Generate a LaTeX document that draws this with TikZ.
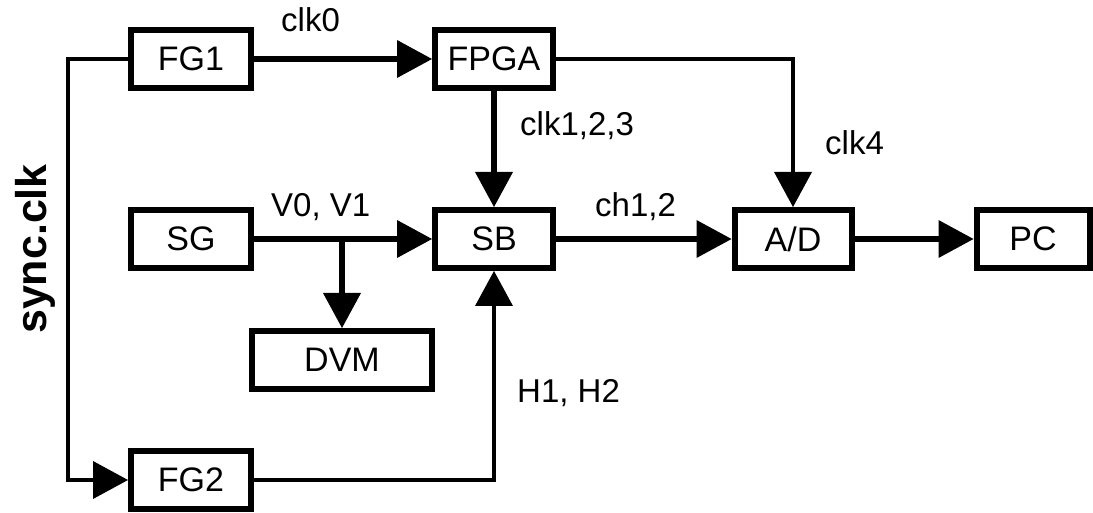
\documentclass[tikz,border=0pt]{standalone}
\usepackage{fontspec}
\setmainfont{Liberation Sans}
\usetikzlibrary{arrows.meta}
\begin{document}
\begin{tikzpicture}[x=1pt,y=-1pt,
  box/.style={draw, line width=6pt, minimum height=58pt, inner sep=0pt,
    font=\fontsize{34}{34}\selectfont},
  lbl/.style={font=\fontsize{33}{33}\selectfont, inner sep=0pt, anchor=base west},
  tri/.style={-{Triangle[length=35pt,width=38pt,line width=0pt]}},
  thk/.style={line width=6pt},
  thn/.style={line width=4pt}]
\useasboundingbox (0,0) rectangle (1093,513);
% boxes
\node[box, minimum width=120pt] (fg1)  at (191,59)  {FG1};
\node[box, minimum width=118pt] (fpga) at (494,59)  {FPGA};
\node[box, minimum width=120pt] (sg)   at (191,239) {SG};
\node[box, minimum width=118pt] (sb)   at (494,239) {SB};
\node[box, minimum width=117pt] (ad)   at (793,239) {A/D};
\node[box, minimum width=113pt] (pc)   at (1033,239) {PC};
\node[box, minimum width=180pt] (dvm)  at (342,360) {DVM};
\node[box, minimum width=120pt] (fg2)  at (191,480) {FG2};
% helper coordinate for the sync loop
\coordinate (loop) at (68,270);
% connectors
\draw[thn,tri] (fg1.west) -| (loop) |- (fg2.west);
\draw[thk,tri] (fg1) -- (fpga);
\draw[thk,tri] (fpga) -- (sb);
\draw[thn,tri] (fpga.east) -| (ad.north);
\draw[thk,tri] (sg) -- (sb);
\draw[thk,tri] (sg.east -| dvm.north) -- (dvm.north);
\draw[thk,tri] (sb) -- (ad);
\draw[thk,tri] (ad) -- (pc);
\draw[thn,tri] (fg2.east) -| (sb.south);
% labels
\node[lbl] (lclk0) at (281,32)  {clk0};
\node[lbl] (lclk1) at (520,136) {clk1,2,3};
\node[lbl] (lclk4) at (825,155) {clk4};
\node[lbl] (lv)    at (271,217) {V0, V1};
\node[lbl] (lch)   at (595,217) {ch1,2};
\node[lbl] (lh)    at (517,402) {H1, H2};
\node[font=\bfseries\fontsize{43}{43}\selectfont, rotate=90, anchor=base, inner sep=0pt]
  (lsync) at (46,249) {sync.clk};
\end{tikzpicture}
\end{document}
